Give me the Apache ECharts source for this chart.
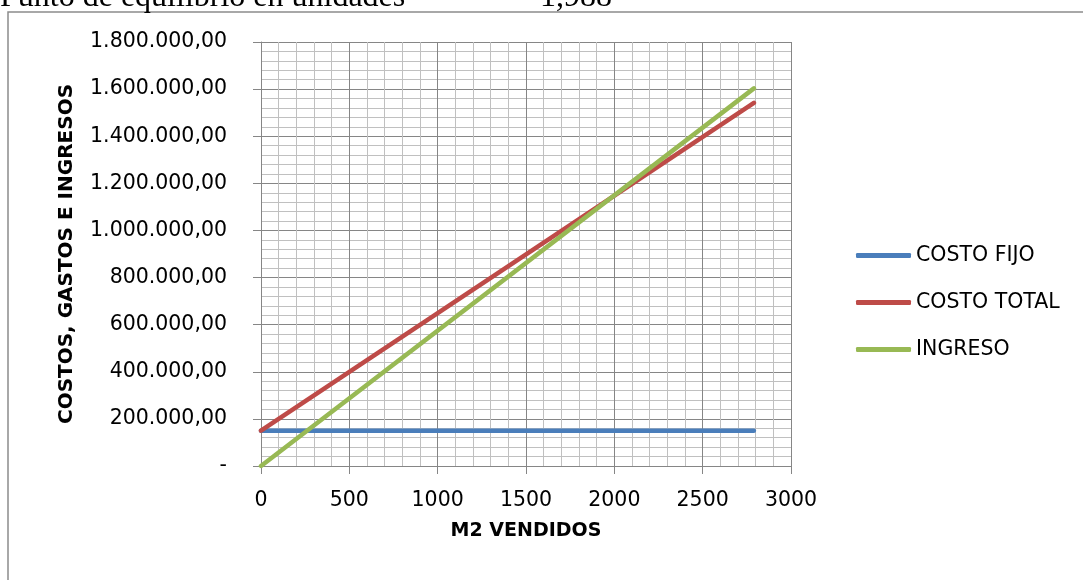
<!DOCTYPE html>
<html>
<head>
<meta charset="utf-8">
<script src="https://cdn.jsdelivr.net/npm/echarts@6/dist/echarts.min.js"></script>
<style>
html,body{margin:0;padding:0;background:#fff;}
#chart{width:1083px;height:580px;}
</style>
</head>
<body>
<div id="chart"></div>
<script>
// Data
const mVendidos = [0, 2790];
const costoFijo = [150000, 150000];
const costoTotal = [150000, 1542000];
const ingreso = [0, 1603000];
const seriesNames = ['COSTO FIJO', 'COSTO TOTAL', 'INGRESO'];
const seriesColors = ['#4a7ebb', '#be4b48', '#98b954'];
const headerLabel = 'Punto de equilibrio en unidades';
const headerValue = '1,988';

function pairs(xs, ys){ return xs.map((x,i)=>[x, ys[i]]); }
function fmtY(v){
  if (v === 0) return '-';
  return String(v).replace(/\B(?=(\d{3})+(?!\d))/g, '.') + ',00';
}
function fmtX(v){ return String(v); }

const chart = echarts.init(document.getElementById('chart'));
const FONT = 'DejaVu Sans';
const option = {
  animation: false,
  backgroundColor: '#fff',
  textStyle: { fontFamily: FONT },
  graphic: [
    { type: 'rect', z: -10, shape: { x: 8, y: 12, width: 1200, height: 700 },
      style: { fill: 'none', stroke: '#8c8c8c', lineWidth: 1.5 } },
    { type: 'text', left: 0, top: -18,
      style: { text: headerLabel, font: '32px "Liberation Serif"', fill: '#000' } },
    { type: 'text', left: 540, top: -18,
      style: { text: headerValue, font: '32px "Liberation Serif"', fill: '#000' } }
  ],
  grid: { left: 261, top: 42, right: 292, bottom: 114, containLabel: false },
  legend: {
    orient: 'vertical', left: 851, top: 240,
    itemWidth: 55, itemHeight: 5, itemGap: 26,
    icon: 'roundRect',
    textStyle: { fontFamily: FONT, fontSize: 20.5, color: '#000' },
    data: seriesNames
  },
  xAxis: {
    type: 'value', min: 0, max: 3000, interval: 500,
    name: 'M2 VENDIDOS', nameLocation: 'middle', nameGap: 56,
    nameTextStyle: { fontFamily: FONT, fontSize: 19, fontWeight: 'bold', color: '#000' },
    axisLine: { show: true, lineStyle: { color: '#868686', width: 1 } },
    axisTick: { show: true, length: 8, lineStyle: { color: '#868686' } },
    axisLabel: { fontFamily: FONT, fontSize: 20.5, color: '#000', margin: 24, formatter: fmtX },
    splitLine: { show: true, lineStyle: { color: '#868686', width: 1 } },
    minorTick: { show: false, splitNumber: 5 },
    minorSplitLine: { show: true, lineStyle: { color: '#c0c0c0', width: 1 } }
  },
  yAxis: {
    type: 'value', min: 0, max: 1800000, interval: 200000,
    name: 'COSTOS, GASTOS E INGRESOS', nameLocation: 'middle', nameGap: 184, nameRotate: 90,
    nameTextStyle: { fontFamily: FONT, fontSize: 20, fontWeight: 'bold', color: '#000' },
    axisLine: { show: true, lineStyle: { color: '#868686', width: 1 } },
    axisTick: { show: true, length: 8, lineStyle: { color: '#868686' } },
    axisLabel: { fontFamily: FONT, fontSize: 20.5, color: '#000', margin: 34, formatter: fmtY },
    splitLine: { show: true, lineStyle: { color: '#868686', width: 1 } },
    minorTick: { show: false, splitNumber: 5 },
    minorSplitLine: { show: true, lineStyle: { color: '#c0c0c0', width: 1 } }
  },
  series: [
    { name: seriesNames[0], type: 'line', data: pairs(mVendidos, costoFijo), showSymbol: false, symbol: 'none',
      color: seriesColors[0], lineStyle: { width: 4.5, cap: 'round' }, z: 3 },
    { name: seriesNames[1], type: 'line', data: pairs(mVendidos, costoTotal), showSymbol: false, symbol: 'none',
      color: seriesColors[1], lineStyle: { width: 4.5, cap: 'round' }, z: 4 },
    { name: seriesNames[2], type: 'line', data: pairs(mVendidos, ingreso), showSymbol: false, symbol: 'none',
      color: seriesColors[2], lineStyle: { width: 4.5, cap: 'round' }, z: 5 }
  ]
};
chart.setOption(option);
</script>
</body>
</html>
